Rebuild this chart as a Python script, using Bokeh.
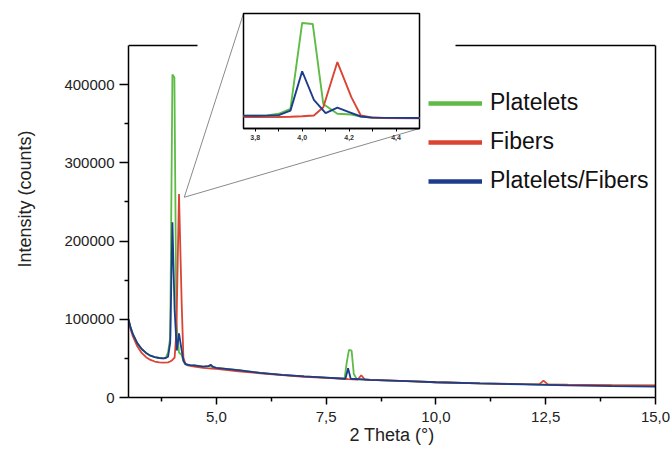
from bokeh.plotting import figure
from bokeh.models import (FixedTicker, CustomJSTickFormatter, BasicTickFormatter,
                          Legend, LegendItem, Range1d, LinearAxis)
from bokeh.embed import file_html
from bokeh.resources import INLINE

# ---------------- data ----------------
series_names = ["Platelets", "Fibers", "Platelets/Fibers"]
series_colors = ["#5DBB46", "#DB4433", "#1E3C8C"]

platelets_x = [3.0, 3.05, 3.1, 3.2, 3.3, 3.4, 3.5, 3.6, 3.7, 3.8, 3.85, 3.9, 3.95,
               4.0, 4.045, 4.09, 4.15, 4.21, 4.25, 4.29, 4.35, 4.5, 4.7, 4.85, 4.9,
               5.0, 5.5, 6.0, 6.5, 7.0, 7.5, 7.92, 7.97, 8.02, 8.08, 8.13, 8.2,
               8.5, 9.0, 9.5, 10.0, 11.0, 12.0, 12.5, 13.0, 14.0, 15.0]
platelets_y = [100000, 89000, 81000, 69500, 62000, 57000, 53500, 51500, 50500, 50000,
               51000, 57500, 77000, 413000, 409000, 96000, 57500, 54500, 47000, 42500,
               41500, 41000, 39500, 40500, 39000, 38000, 35000, 31500, 29000, 27000,
               25500, 24000, 45000, 61000, 60000, 30000, 23500, 22500, 21500, 20500,
               19500, 18000, 17000, 16500, 16000, 15500, 15000]

fibers_x = [3.0, 3.05, 3.1, 3.2, 3.3, 3.4, 3.5, 3.6, 3.7, 3.8, 3.9, 3.95, 4.0, 4.05,
            4.09, 4.15, 4.21, 4.25, 4.29, 4.35, 4.5, 4.7, 4.9, 5.0, 5.5, 6.0, 6.5,
            7.0, 7.5, 8.0, 8.22, 8.3, 8.38, 8.5, 9.0, 9.5, 10.0, 11.0, 12.0, 12.35,
            12.45, 12.55, 13.0, 14.0, 15.0]
fibers_y = [99000, 87000, 78000, 65500, 57000, 51500, 48000, 46000, 45000, 44500,
            45000, 46000, 48000, 51000, 83000, 260000, 122000, 51000, 44000, 41000,
            39500, 38000, 37000, 36500, 33500, 31000, 28500, 26500, 25000, 23500,
            23000, 28500, 23000, 22500, 21500, 20500, 19500, 18000, 17000, 16800,
            21500, 16800, 16300, 15800, 15500]

mixed_x = [3.0, 3.05, 3.1, 3.2, 3.3, 3.4, 3.5, 3.6, 3.7, 3.8, 3.85, 3.9, 3.95, 4.0,
           4.05, 4.1, 4.15, 4.2, 4.25, 4.3, 4.4, 4.5, 4.7, 4.82, 4.87, 4.93, 5.0,
           5.5, 6.0, 6.5, 7.0, 7.5, 7.94, 8.0, 8.06, 8.5, 9.0, 9.5, 10.0, 11.0,
           12.0, 13.0, 14.0, 15.0]
mixed_y = [100000, 89000, 81000, 69500, 62000, 57000, 53500, 51500, 50500, 50000,
           50500, 52000, 70000, 224000, 112000, 60000, 82000, 64000, 47000, 42500,
           41500, 41000, 39500, 40000, 42000, 39000, 38000, 35000, 31500, 29000,
           27000, 25500, 24000, 37500, 24000, 22500, 21500, 20500, 19500, 18000,
           16800, 15500, 14500, 14000]

x_major_ticks = [5.0, 7.5, 10.0, 12.5, 15.0]
x_minor_ticks = [3.75, 6.25, 8.75, 11.25, 13.75]
y_major_ticks = [0, 100000, 200000, 300000, 400000]
y_minor_ticks = [50000, 150000, 250000, 350000]
inset_major_ticks = [3.8, 4.0, 4.2, 4.4]
inset_minor_ticks = [3.9, 4.1, 4.3]

x_label = "2 Theta (°)"
y_label = "Intensity (counts)"

# ---------------- layout constants (page pixels) ----------------
FONT = "Liberation Sans"
W, H = 670, 452
ML, MR, MB = 128, 15, 55
BOX_TOP = 45            # pixel row of the plot box's top edge
XR = (3.0, 15.0)
YR = (0.0, 450000.0)    # value range of the plot box

IW, IH = 258, 142
IML, IMR, IMT, IMB = 46, 36, 13, 14
IXR = (3.75, 4.5)
IYR = (0.0, 450000.0)
INSET_LEFT = 197

# zoom point (main data coords) where the connector lines meet
MEET = (4.27, 256000.0)

# the main frame runs to the top of the canvas so that the connector lines
# can reach the inset; the visible box top sits at BOX_TOP.
m_fl, m_fr, m_fb = ML, W - MR, H - MB
y_top = YR[0] + (YR[1] - YR[0]) * m_fb / (m_fb - BOX_TOP)

fmt = CustomJSTickFormatter(code="return tick.toFixed(1).replace('.', ',');")

# ---------------- main figure ----------------
p = figure(width=W, height=H, x_range=Range1d(*XR), y_range=Range1d(YR[0], y_top),
           output_backend="svg", toolbar_location=None,
           min_border_left=ML, min_border_right=MR, min_border_top=0,
           min_border_bottom=MB, background_fill_color="white",
           border_fill_color="white")
p.grid.visible = False
p.outline_line_color = None
p.extra_y_ranges = {"legend_only": Range1d(-2e6, -1e6)}

p.xaxis.ticker = FixedTicker(ticks=x_major_ticks, minor_ticks=x_minor_ticks)
p.xaxis.formatter = fmt
p.yaxis.ticker = FixedTicker(ticks=y_major_ticks, minor_ticks=y_minor_ticks)
p.yaxis.formatter = BasicTickFormatter(use_scientific=False)
p.yaxis.bounds = YR

for ax in (p.xaxis[0], p.yaxis[0]):
    ax.axis_line_width = 1.5
    ax.major_tick_line_width = 1.5
    ax.minor_tick_line_width = 1.5
    ax.major_tick_in = 0
    ax.minor_tick_in = 0
    ax.minor_tick_out = 4
    ax.major_label_text_font = FONT
    ax.major_label_text_font_size = "15px"
    ax.major_label_text_color = "#222222"
    ax.axis_label_text_font = FONT
    ax.axis_label_text_font_style = "normal"
    ax.axis_label_text_color = "#222222"

p.xaxis.major_tick_out = 7
p.xaxis.major_label_standoff = 7
p.xaxis.axis_label = x_label
p.xaxis.axis_label_text_font_size = "18px"
p.xaxis.axis_label_standoff = 0

p.yaxis.major_tick_out = 9
p.yaxis.major_label_standoff = 5
p.yaxis.axis_label = y_label
p.yaxis.axis_label_text_font_size = "18px"
p.yaxis.axis_label_standoff = 26

# right edge of the box: bare axis line
right = LinearAxis(bounds=YR, ticker=FixedTicker(ticks=[]), major_tick_out=0,
                   major_tick_in=0, minor_tick_out=0, minor_tick_in=0,
                   major_label_standoff=0, axis_line_width=1.5)
p.add_layout(right, "right")

xs = [platelets_x, fibers_x, mixed_x]
ys = [platelets_y, fibers_y, mixed_y]

for col, x, y in zip(series_colors, xs, ys):
    p.line(x, y, line_color=col, line_width=1.8)

# thick legend swatches: same data on an off-screen range (nothing drawn)
items = []
for name, col, x, y in zip(series_names, series_colors, xs, ys):
    r = p.line(x, y, line_color=col, line_width=4.5, y_range_name="legend_only")
    items.append(LegendItem(label=name, renderers=[r]))

legend = Legend(items=items, location=(300, 203), glyph_width=54, glyph_height=26,
                label_height=26, label_standoff=8, spacing=12, padding=0, margin=0,
                border_line_color=None, background_fill_alpha=0,
                label_text_font=FONT, label_text_font_size="23px",
                label_text_color="#111111")
p.add_layout(legend)

# ---------------- inset figure ----------------
ins = figure(width=IW, height=IH, x_range=Range1d(*IXR), y_range=Range1d(*IYR),
             output_backend="svg", toolbar_location=None,
             min_border_left=IML, min_border_right=IMR, min_border_top=IMT,
             min_border_bottom=IMB, background_fill_color="white",
             border_fill_alpha=0)
ins.grid.visible = False
ins.yaxis.visible = False
ins.outline_line_color = "black"
ins.outline_line_width = 1.5
ins.xaxis.ticker = FixedTicker(ticks=inset_major_ticks, minor_ticks=inset_minor_ticks)
ins.xaxis.formatter = fmt
ins.xaxis.axis_line_width = 1.5
ins.xaxis.major_tick_in = 0
ins.xaxis.major_tick_out = 3
ins.xaxis.minor_tick_in = 0
ins.xaxis.minor_tick_out = 3
ins.xaxis.major_label_standoff = 3
ins.xaxis.major_label_text_font = FONT
ins.xaxis.major_label_text_font_size = "7px"
ins.xaxis.major_label_text_font_style = "bold"
ins.xaxis.major_label_text_color = "#333333"

for col, x, y in zip(series_colors, xs, ys):
    ins.line(x, y, line_color=col, line_width=1.9)

# ---------------- box top edge and connector lines ----------------
i_fl, i_fr = INSET_LEFT + IML, INSET_LEFT + IW - IMR
i_ft, i_fb = IMT, IH - IMB

def main_data(px, py):
    return (XR[0] + (px - m_fl) / (m_fr - m_fl) * (XR[1] - XR[0]),
            YR[0] + (m_fb - py) / (m_fb - BOX_TOP) * (YR[1] - YR[0]))

gap_l = main_data(INSET_LEFT, 0)[0]
gap_r = main_data(INSET_LEFT + IW, 0)[0]
p.segment(x0=[XR[0], gap_r], y0=[YR[1], YR[1]], x1=[gap_l, XR[1]], y1=[YR[1], YR[1]],
          line_color="black", line_width=1.5)

corners = [main_data(i_fl, i_ft), main_data(i_fr, i_fb)]
p.segment(x0=[c[0] for c in corners], y0=[c[1] for c in corners],
          x1=[MEET[0]] * 2, y1=[MEET[1]] * 2, line_color="#8a8a8a", line_width=1)

# inset overlaps the main figure (separate root, pulled up over it)
ins.margin = (-H, 0, 0, INSET_LEFT)

open("out.html", "w").write(file_html([p, ins], INLINE))
